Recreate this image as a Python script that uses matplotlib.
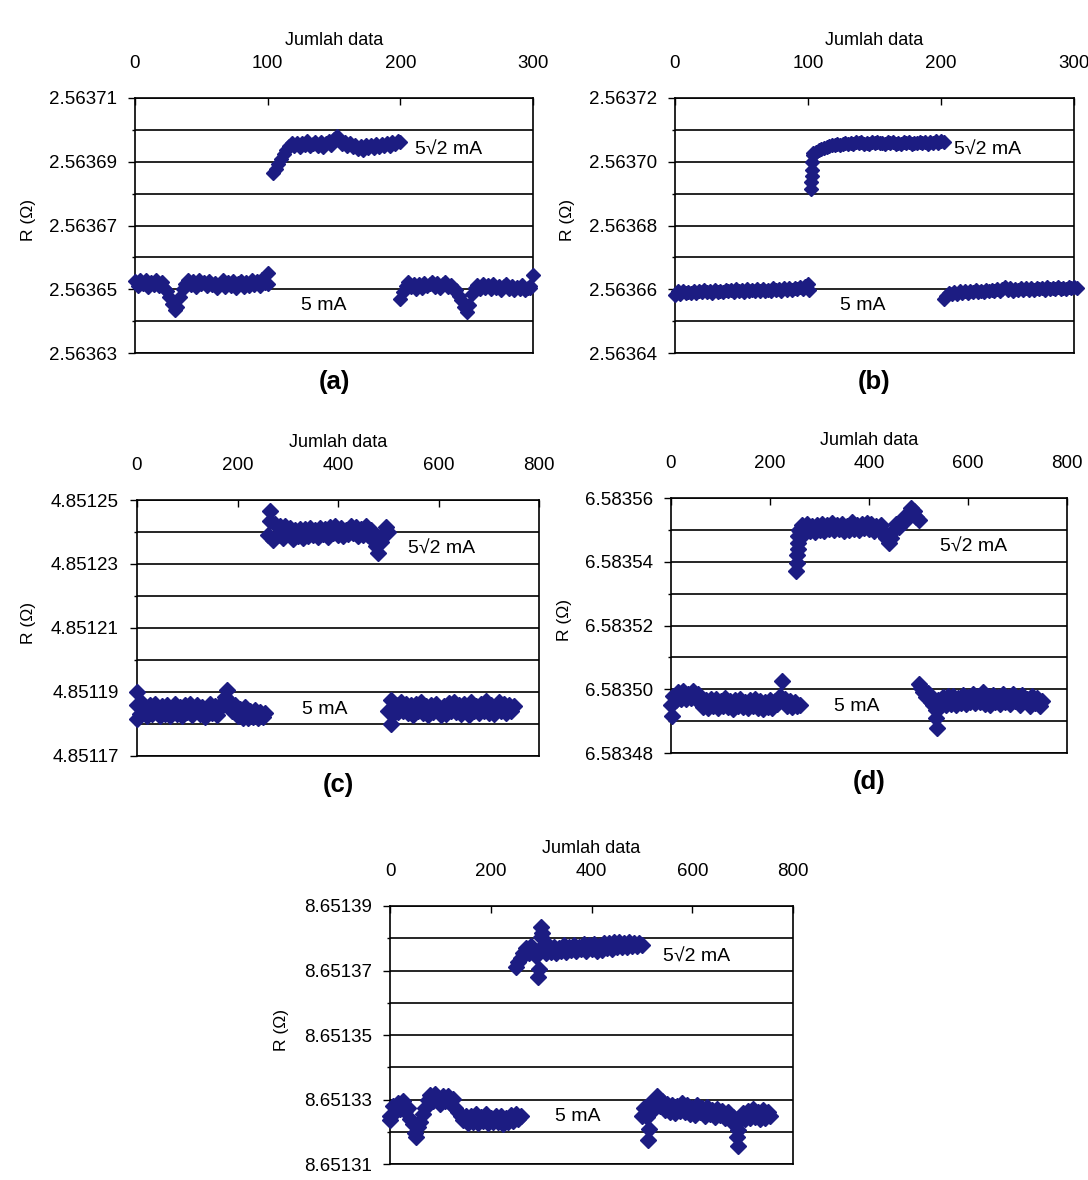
import numpy as np
import matplotlib.pyplot as plt
from matplotlib.ticker import FixedLocator, FormatStrFormatter

plt.rcParams['font.family'] = ['Liberation Sans', 'DejaVu Sans']

W, H = 1088, 1180
NAVY = '#1c1c82'

# resistance readings in micro-ohm above each panel's base value
# runs are read every 2 samples in (a)/(b) and every 5 samples in (c)-(e)
a_base = 2.5636
a_lo1 = [52.5, 51.0, 53.0, 51.5, 52.8, 50.8, 52.4, 51.2, 53.0, 51.0, 52.2, 50.5, 49.5,
         47.5, 45.5, 43.5, 44.5, 47.5, 50.0, 51.8, 52.8, 51.2, 52.6, 50.8, 52.9, 51.5,
         52.3, 50.9, 52.7, 51.4, 52.0, 50.4, 51.8, 52.8, 50.6, 52.2, 51.0, 52.6, 50.5,
         51.9, 52.7, 50.8, 52.4, 51.1, 52.9, 51.3, 52.5, 51.0, 53.2, 52.0, 55.0]
a_hi = [86.5, 87.8, 89.2, 90.8, 92.3, 93.8, 95.0, 95.8, 94.8, 95.9, 94.6, 96.0, 95.2,
        96.4, 94.9, 95.7, 96.3, 95.0, 96.1, 94.7, 95.8, 96.6, 95.4, 97.2, 98.0, 96.8,
        95.6, 96.2, 95.0, 95.8, 94.5, 95.3, 94.0, 94.9, 93.8, 95.1, 94.2, 95.3, 94.4,
        95.6, 94.6, 95.5, 94.8, 95.9, 95.0, 96.1, 95.6, 96.4, 96.2]
a_lo2 = [47.0, 49.0, 51.0, 52.2, 50.6, 51.8, 50.2, 51.5, 50.4, 52.0, 50.9, 51.6, 52.4,
         50.8, 51.9, 50.5, 51.7, 52.3, 50.6, 51.4, 50.2, 49.8, 48.0, 46.5, 44.5, 43.0,
         45.0, 48.5, 50.5, 51.3, 50.1, 51.6, 50.4, 51.2, 50.0, 51.5, 50.3, 51.1, 49.8,
         50.9, 51.6, 50.2, 51.0, 49.9, 50.8, 50.1, 51.2, 49.7, 50.5, 51.0, 54.5]
a_extra_x = [100, 298]
a_extra_r = [51.5, 50.5]

b_base = 2.5636
b_lo1 = [58.2, 59.3, 58.6, 59.5, 58.8, 59.2, 58.7, 59.6, 58.9, 59.4, 59.0, 59.7, 59.1,
         59.5, 58.9, 59.8, 59.2, 59.6, 59.0, 59.9, 59.3, 59.7, 59.1, 60.0, 59.4, 59.8,
         59.2, 60.1, 59.5, 59.9, 59.3, 60.0, 59.6, 60.2, 59.4, 59.9, 59.5, 60.3, 59.7,
         60.1, 59.6, 60.3, 59.8, 60.4, 59.9, 60.5, 60.0, 60.6, 60.2, 61.0, 61.8]
b_hi = [102.8, 103.2, 103.6, 104.0, 104.4, 104.6, 104.9, 105.1, 105.3, 105.5, 105.4,
        105.7, 105.9, 105.6, 106.0, 105.7, 106.1, 105.8, 106.2, 105.7, 106.0, 105.6,
        106.1, 105.8, 106.3, 105.9, 106.0, 105.5, 106.1, 105.8, 106.2, 105.6, 106.0,
        105.7, 106.2, 105.8, 106.1, 105.6, 106.0, 105.8, 106.3, 105.9, 106.1, 105.7,
        106.2, 105.9, 106.4, 106.0, 106.5, 106.3]
b_lo2 = [56.8, 58.0, 58.8, 58.4, 59.2, 58.6, 59.3, 58.8, 59.5, 58.9, 59.4, 59.0, 59.7,
         59.1, 59.6, 59.2, 59.9, 59.3, 59.8, 59.4, 60.0, 59.5, 60.1, 60.6, 59.7, 60.3,
         59.6, 60.2, 59.8, 60.5, 59.9, 60.3, 59.7, 60.4, 59.9, 60.5, 60.0, 60.4, 59.9,
         60.6, 60.1, 60.5, 60.0, 60.6, 60.2, 60.5, 60.1, 60.7, 60.3, 60.6, 60.5]
b_extra_x = [101, 102, 102, 103, 103, 103, 104]
b_extra_r = [59.8, 91.5, 93.5, 95.5, 97.5, 100.0, 102.0]

c_base = 4.8511
c_lo1 = [86.0, 83.0, 86.5, 84.0, 82.5, 85.8, 83.2, 86.2, 84.5, 82.4, 85.5, 83.0, 86.0,
         82.6, 84.8, 86.3, 83.1, 85.2, 82.5, 85.9, 83.6, 86.4, 82.8, 84.9, 86.0, 83.0,
         85.4, 82.3, 84.6, 86.2, 83.3, 85.7, 82.7, 85.0, 86.5, 88.5, 90.5, 87.0, 84.0,
         86.0, 82.5, 84.8, 82.0, 85.2, 81.8, 84.0, 82.3, 84.5, 81.9, 83.8, 82.2, 83.5]
c_hi = [139.0, 143.5, 137.5, 142.5, 139.0, 141.8, 138.0, 142.0, 139.5, 141.2, 137.8,
        140.5, 138.6, 141.0, 138.2, 140.8, 138.9, 141.4, 139.0, 140.6, 138.4, 141.2,
        139.3, 140.9, 138.5, 141.6, 139.6, 142.0, 139.1, 141.3, 138.7, 140.5, 139.5,
        142.0, 139.8, 141.5, 138.6, 140.9, 139.2, 141.8, 139.0, 140.6, 137.5, 135.5,
        133.5, 137.0, 139.5, 141.5, 140.0]
c_lo2 = [84.0, 87.5, 83.0, 86.0, 83.6, 87.0, 84.2, 86.4, 83.4, 85.8, 82.8, 86.2, 84.0,
         86.8, 83.5, 85.5, 82.9, 85.9, 83.8, 86.4, 84.3, 82.8, 85.6, 83.2, 86.5, 84.1,
         87.0, 83.6, 85.9, 83.0, 86.3, 84.4, 82.9, 86.8, 84.0, 85.6, 83.3, 86.4, 84.2,
         87.2, 83.5, 86.0, 83.1, 85.7, 87.0, 84.0, 86.2, 83.4, 85.8, 84.2, 85.5]
c_extra_x = [0, 0, 265, 505]
c_extra_r = [90.0, 81.5, 146.5, 80.0]

d_base = 6.5834
d_lo1 = [95.0, 98.0, 96.5, 99.2, 97.0, 99.5, 96.8, 98.6, 97.2, 99.4, 97.0, 98.5, 96.2,
         94.5, 96.5, 94.0, 96.8, 94.6, 97.0, 94.2, 96.4, 94.8, 97.2, 94.5, 96.3, 93.9,
         96.6, 94.7, 97.0, 94.3, 96.1, 94.0, 96.5, 94.6, 96.9, 94.2, 96.2, 93.8, 96.0,
         94.4, 96.7, 94.1, 96.3, 95.5, 98.0, 102.5, 97.0, 94.8, 96.4, 94.5, 96.0, 94.6,
         95.2]
d_hi = [149.5, 151.5, 149.0, 151.8, 149.8, 151.2, 149.3, 151.6, 150.0, 152.0, 149.6,
        151.4, 150.2, 152.2, 149.9, 151.5, 150.4, 152.0, 149.8, 151.3, 150.1, 152.4,
        150.3, 151.6, 149.9, 151.8, 150.5, 152.3, 150.2, 151.7, 149.8, 151.2, 150.0,
        151.5, 149.2, 147.5, 146.0, 147.5, 150.0, 152.0, 150.8, 153.0, 152.5, 154.5,
        155.5, 157.0, 156.0, 154.0, 153.2]
d_lo2 = [101.5, 100.5, 99.0, 97.5, 98.8, 96.0, 95.0, 93.5, 96.5, 94.8, 97.6, 95.0, 97.8,
         95.4, 98.0, 95.2, 97.4, 95.8, 98.2, 95.3, 97.6, 95.9, 98.4, 95.6, 97.9, 96.0,
         99.0, 95.5, 97.8, 95.2, 98.3, 96.1, 97.5, 95.4, 98.6, 96.0, 97.7, 95.3, 98.5,
         96.2, 97.4, 95.0, 98.2, 96.3, 97.0, 94.8, 97.9, 95.6, 97.2, 94.9, 96.3]
d_extra_x = [2, 253, 254, 255, 256, 256, 257, 258, 537, 535]
d_extra_r = [91.5, 137.0, 139.5, 142.0, 144.0, 146.0, 148.0, 150.0, 88.0, 91.0]

e_base = 8.6513
e_lo1 = [25.0, 28.0, 26.0, 29.0, 27.0, 29.5, 26.5, 27.5, 24.0, 22.5, 19.5, 21.5, 23.0,
         25.5, 27.5, 30.0, 31.5, 29.5, 31.8, 30.0, 28.5, 31.2, 29.4, 31.0, 28.8, 30.2,
         27.5, 26.0, 25.0, 23.5, 25.0, 22.8, 24.8, 23.0, 25.4, 22.7, 24.6, 23.2, 25.5,
         22.6, 24.2, 22.9, 25.0, 23.1, 24.8, 22.5, 24.4, 23.0, 25.3, 23.4, 25.6, 23.8,
         25.0]
e_hi = [71.0, 72.5, 74.0, 75.5, 77.0, 75.5, 77.5, 76.0, 74.5, 76.5, 80.5, 78.0, 75.5,
        77.6, 75.8, 77.2, 75.4, 77.0, 76.0, 77.8, 75.7, 77.3, 76.4, 78.0, 75.9, 77.4,
        76.6, 78.2, 76.2, 77.9, 76.8, 78.3, 76.0, 77.5, 76.5, 78.6, 77.0, 78.4, 76.8,
        78.7, 77.2, 78.9, 77.4, 78.5, 77.2, 78.8, 77.6, 78.4, 77.5, 78.5, 78.0]
e_lo2 = [25.0, 27.5, 24.5, 28.5, 26.5, 30.0, 31.0, 28.0, 29.5, 26.8, 28.6, 26.2, 28.4,
         25.8, 28.0, 26.4, 29.0, 26.0, 28.3, 25.6, 27.5, 25.2, 28.2, 26.0, 27.4, 24.9,
         27.6, 25.4, 26.8, 24.6, 27.0, 25.1, 26.4, 24.2, 26.0, 23.8, 24.5, 22.0, 20.5,
         23.5, 25.8, 23.9, 26.5, 24.3, 27.0, 24.6, 26.2, 24.0, 26.6, 24.4, 26.0, 24.8]
e_extra_x = [0, 52, 293, 295, 300, 302, 512, 515, 688, 690]
e_extra_r = [23.5, 18.5, 68.0, 70.5, 83.5, 81.5, 17.5, 21.0, 18.5, 15.5]

panels = [
    # tag, base, runs (first index, step, readings), extras, y range, x max,
    # x tick step, axes box in pixels (l, t, r, b), label spots (index, reading)
    ('(a)', a_base, [(0, 2, a_lo1), (104, 2, a_hi), (200, 2, a_lo2)],
     (a_extra_x, a_extra_r), (2.56363, 2.56371), 300, 100, (135, 98, 533, 353),
     (211, 93.7), (142, 44.8)),
    ('(b)', b_base, [(0, 2, b_lo1), (104, 2, b_hi), (202, 2, b_lo2)],
     (b_extra_x, b_extra_r), (2.56364, 2.56372), 300, 100, (675, 98, 1074, 353),
     (210, 103.7), (141, 54.8)),
    ('(c)', c_base, [(0, 5, c_lo1), (260, 5, c_hi), (500, 5, c_lo2)],
     (c_extra_x, c_extra_r), (4.85117, 4.85125), 800, 200, (137, 500, 539, 756),
     (539, 134.7), (374, 84.4)),
    ('(d)', d_base, [(0, 5, d_lo1), (260, 5, d_hi), (500, 5, d_lo2)],
     (d_extra_x, d_extra_r), (6.58348, 6.58356), 800, 200, (671, 498, 1067, 753),
     (543, 144.6), (376, 94.5)),
    ('(e)', e_base, [(0, 5, e_lo1), (250, 5, e_hi), (500, 5, e_lo2)],
     (e_extra_x, e_extra_r), (8.65131, 8.65139), 800, 200, (390, 906, 793, 1164),
     (542, 74.2), (373, 24.6)),
]

fig = plt.figure(figsize=(W / 100, H / 100), dpi=100)

for tag, base, runs, extras, (ylo, yhi), xmax, xstep, box, hi_at, lo_at in panels:
    l, t, r, b = box
    ax = fig.add_axes([l / W, 1 - b / H, (r - l) / W, (b - t) / H])
    ms = 7.5 if xmax == 300 else 8.3

    pts = [(x0 + step * np.arange(len(vals)), np.array(vals)) for x0, step, vals in runs]
    pts.append((np.array(extras[0]), np.array(extras[1])))
    for x, vals in pts:
        ax.plot(x, base + vals * 1e-6, 'D', ms=ms, color=NAVY, mec=NAVY,
                ls='none', clip_on=False, zorder=3)

    ax.set_xlim(0, xmax)
    ax.set_ylim(ylo, yhi)

    ax.xaxis.tick_top()
    ax.xaxis.set_label_position('top')
    ax.set_xticks(np.arange(0, xmax + 1, xstep))
    ax.set_xlabel('Jumlah data', fontsize=13, labelpad=7)
    ax.tick_params(axis='x', direction='in', length=5, width=1, pad=19,
                   labelsize=13.5, top=True, bottom=False)

    ax.yaxis.set_major_locator(FixedLocator([ylo + k * 2e-5 for k in range(5)]))
    ax.yaxis.set_minor_locator(FixedLocator([ylo + k * 1e-5 for k in range(9)]))
    ax.yaxis.set_major_formatter(FormatStrFormatter('%.5f'))
    ax.tick_params(axis='y', which='major', direction='out', length=5, width=1,
                   pad=8, labelsize=13.5)
    ax.tick_params(axis='y', which='minor', direction='out', length=2.5, width=1)
    ax.yaxis.grid(True, which='both', color='black', lw=1.2)
    ax.set_axisbelow(True)

    ax.set_ylabel('R (Ω)', fontsize=12.5)
    ax.yaxis.set_label_coords(-0.25, 0.52)

    for s in ax.spines.values():
        s.set_linewidth(1.2)
        s.set_color('black')

    ax.text(hi_at[0], base + hi_at[1] * 1e-6, '5√2 mA', fontsize=14,
            ha='left', va='center')
    ax.text(lo_at[0], base + lo_at[1] * 1e-6, '5 mA', fontsize=14,
            ha='center', va='center')

    if tag != '(e)':
        ax.text(0.5, -0.115, tag, transform=ax.transAxes, ha='center',
                va='center', fontsize=18.5, fontweight='bold')

fig.savefig('out.png', dpi=100)
